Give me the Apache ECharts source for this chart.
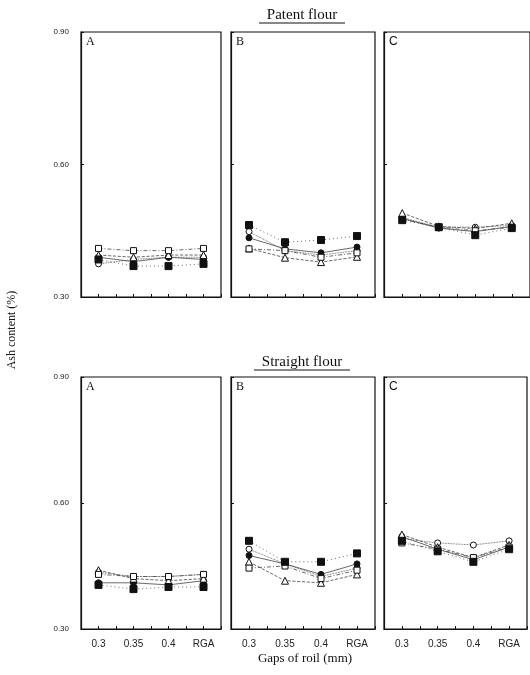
<!DOCTYPE html>
<html>
<head>
<meta charset="utf-8">
<script src="https://cdn.jsdelivr.net/npm/echarts@6/dist/echarts.min.js"></script>
<style>html,body{margin:0;padding:0;background:#fff}#c{width:530px;height:675px}</style>
</head>
<body>
<div id="c"></div>
<script>
// ---- data ----
const categories = ['0.3', '0.35', '0.4', 'RGA'];
const yTicks = [0.30, 0.60, 0.90];
const panelLetters = ['A', 'B', 'C'];
const rowTitles = ['Patent flour', 'Straight flour'];
const seriesNames = ['open circle', 'filled circle', 'open triangle', 'open square', 'filled square'];

// Patent flour (top row): [0.3, 0.35, 0.4, RGA]
const patentA_openCircle   = [0.375, 0.385, 0.390, 0.390];
const patentA_filledCircle = [0.390, 0.380, 0.390, 0.385];
const patentA_openTriangle = [0.395, 0.390, 0.395, 0.395];
const patentA_openSquare   = [0.410, 0.405, 0.405, 0.410];
const patentA_filledSquare = [0.385, 0.370, 0.370, 0.375];

const patentB_openCircle   = [0.448, 0.405, 0.395, 0.405];
const patentB_filledCircle = [0.434, 0.409, 0.400, 0.413];
const patentB_openTriangle = [0.410, 0.389, 0.379, 0.391];
const patentB_openSquare   = [0.409, 0.405, 0.390, 0.400];
const patentB_filledSquare = [0.463, 0.424, 0.429, 0.438];

const patentC_openCircle   = [0.480, 0.458, 0.458, 0.462];
const patentC_filledCircle = [0.478, 0.456, 0.448, 0.460];
const patentC_openTriangle = [0.490, 0.460, 0.455, 0.467];
const patentC_openSquare   = [0.476, 0.458, 0.450, 0.458];
const patentC_filledSquare = [0.474, 0.458, 0.440, 0.456];

// Straight flour (bottom row)
const straightA_openCircle   = [0.435, 0.425, 0.425, 0.430];
const straightA_filledCircle = [0.410, 0.410, 0.405, 0.415];
const straightA_openTriangle = [0.440, 0.420, 0.415, 0.420];
const straightA_openSquare   = [0.430, 0.425, 0.425, 0.430];
const straightA_filledSquare = [0.405, 0.395, 0.400, 0.400];

const straightB_openCircle   = [0.490, 0.455, 0.425, 0.445];
const straightB_filledCircle = [0.475, 0.455, 0.430, 0.455];
const straightB_openTriangle = [0.460, 0.415, 0.410, 0.430];
const straightB_openSquare   = [0.445, 0.450, 0.420, 0.440];
const straightB_filledSquare = [0.510, 0.460, 0.460, 0.480];

const straightC_openCircle   = [0.515, 0.505, 0.500, 0.510];
const straightC_filledCircle = [0.520, 0.490, 0.465, 0.495];
const straightC_openTriangle = [0.525, 0.495, 0.470, 0.500];
const straightC_openSquare   = [0.505, 0.490, 0.470, 0.495];
const straightC_filledSquare = [0.510, 0.485, 0.460, 0.490];

const panels = [
  [patentA_openCircle, patentA_filledCircle, patentA_openTriangle, patentA_openSquare, patentA_filledSquare],
  [patentB_openCircle, patentB_filledCircle, patentB_openTriangle, patentB_openSquare, patentB_filledSquare],
  [patentC_openCircle, patentC_filledCircle, patentC_openTriangle, patentC_openSquare, patentC_filledSquare],
  [straightA_openCircle, straightA_filledCircle, straightA_openTriangle, straightA_openSquare, straightA_filledSquare],
  [straightB_openCircle, straightB_filledCircle, straightB_openTriangle, straightB_openSquare, straightB_filledSquare],
  [straightC_openCircle, straightC_filledCircle, straightC_openTriangle, straightC_openSquare, straightC_filledSquare]
];

// ---- styles ----
const symbolStyles = [
  {symbol: 'circle', fill: '#fff', size: 6, line: 'dotted'},
  {symbol: 'circle', fill: '#111', size: 6, line: 'solid'},
  {symbol: 'triangle', fill: '#fff', size: 7, line: 'dashed'},
  {symbol: 'rect', fill: '#fff', size: 6, line: [4, 2, 1, 2]},
  {symbol: 'rect', fill: '#111', size: 7, line: [1, 3]}
];
const colLayout = [{left: 81, width: 140}, {left: 231, width: 144}, {left: 384, width: 147}];
const rowLayout = [{top: 32, height: 265}, {top: 377, height: 252}];

const grids = [], xAxes = [], yAxes = [], series = [];
for (let p = 0; p < 6; p++) {
  const r = Math.floor(p / 3), c = p % 3;
  grids.push({left: colLayout[c].left, width: colLayout[c].width, top: rowLayout[r].top, height: rowLayout[r].height,
    show: true, borderColor: '#111', borderWidth: 1.2, backgroundColor: 'transparent', containLabel: false});
  xAxes.push({type: 'value', gridIndex: p, min: 0, max: categories.length, interval: 0.5,
    axisLine: {show: true, lineStyle: {color: '#111', width: 1.2}},
    axisTick: {show: true, inside: true, length: 3, lineStyle: {color: '#111'}},
    splitLine: {show: false},
    axisLabel: {show: r === 1, margin: 10, fontSize: 10, color: '#222', fontFamily: 'Liberation Sans',
      showMinLabel: true, showMaxLabel: true,
      formatter: v => { const k = v - 0.5; return (Math.abs(k - Math.round(k)) < 1e-6 && k >= 0 && k < categories.length) ? categories[Math.round(k)] : ''; }}
  });
  yAxes.push({type: 'value', gridIndex: p, min: yTicks[0], max: yTicks[yTicks.length - 1], interval: 0.30,
    axisLine: {show: true, lineStyle: {color: '#111', width: 1.2}},
    axisTick: {show: true, inside: true, length: 3, lineStyle: {color: '#111'}},
    splitLine: {show: false},
    axisLabel: {show: c === 0, margin: 12, fontSize: 8, color: '#222', fontFamily: 'Liberation Sans',
      formatter: v => v.toFixed(2)}
  });
  panels[p].forEach((vals, s) => {
    const st = symbolStyles[s];
    series.push({type: 'line', name: seriesNames[s], xAxisIndex: p, yAxisIndex: p,
      data: vals.map((v, i) => [i + 0.5, v]),
      symbol: st.symbol, symbolSize: st.size, showSymbol: true, z: 3 + s,
      itemStyle: {color: st.fill, borderColor: '#111', borderWidth: 1},
      lineStyle: {color: '#444', width: 0.8, type: st.line},
      emphasis: {disabled: true}, animation: false
    });
  });
}

const graphics = [];
for (let r = 0; r < 2; r++) {
  for (let c = 0; c < 3; c++) {
    graphics.push({type: 'text', left: colLayout[c].left + 5, top: rowLayout[r].top + 4,
      style: {text: panelLetters[c], font: (c === 2 ? '12px "Liberation Sans"' : '12px "Liberation Serif"'), fill: '#111'}});
  }
}
const titleY = [15, 362], titleW = [86, 96];
for (let r = 0; r < 2; r++) {
  graphics.push({type: 'text', x: 302, y: titleY[r],
    style: {text: rowTitles[r], font: '15px "Liberation Serif"', fill: '#111', align: 'center', verticalAlign: 'middle'}});
  graphics.push({type: 'line', shape: {x1: 302 - titleW[r] / 2, y1: titleY[r] + 8, x2: 302 + titleW[r] / 2, y2: titleY[r] + 8},
    style: {stroke: '#111', lineWidth: 1}});
}
graphics.push({type: 'text', x: 12, y: 330, rotation: Math.PI / 2,
  style: {text: 'Ash content (%)', font: '12px "Liberation Serif"', fill: '#111', align: 'center', verticalAlign: 'middle'}});
graphics.push({type: 'text', x: 305, y: 659,
  style: {text: 'Gaps of roil (mm)', font: '13px "Liberation Serif"', fill: '#111', align: 'center', verticalAlign: 'middle'}});

const chart = echarts.init(document.getElementById('c'), null, {renderer: 'canvas'});
chart.setOption({animation: false, grid: grids, xAxis: xAxes, yAxis: yAxes, series: series, graphic: graphics});
</script>
</body>
</html>
